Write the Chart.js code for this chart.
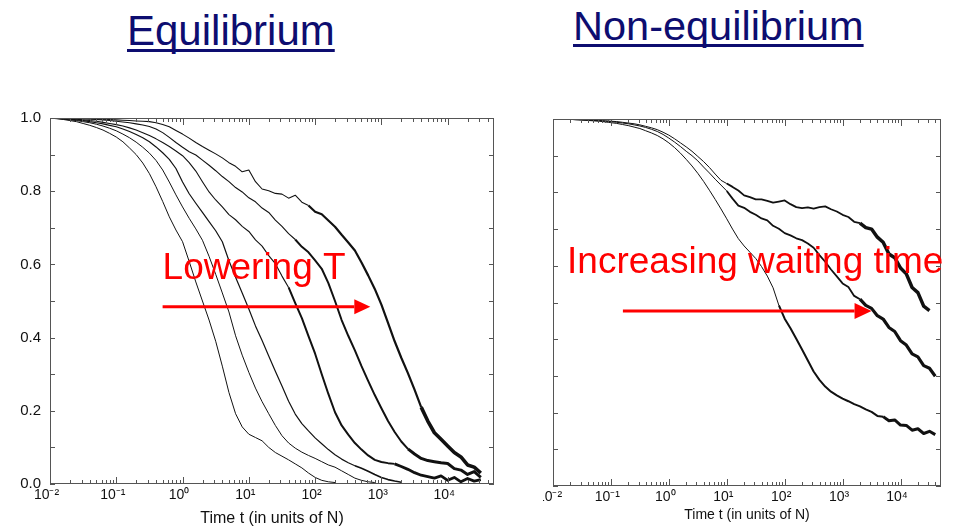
<!DOCTYPE html>
<html>
<head>
<meta charset="utf-8">
<script src="https://cdn.jsdelivr.net/npm/chart.js@4.4.1/dist/chart.umd.min.js"></script>
<style>
  html, body { margin: 0; padding: 0; background: #fff; }
  body { width: 956px; height: 530px; position: relative; overflow: hidden; font-family: "Liberation Sans", Arial, sans-serif; }
  .title { position: absolute; color: #0d0d70; line-height: 1; white-space: nowrap;
           text-decoration: underline; text-decoration-thickness: 3px; text-underline-offset: 4px; text-decoration-skip-ink: none; }
  .panel { position: absolute; top: 100px; height: 430px; }
</style>
</head>
<body>
<div class="title" style="left:127px; top:10px; font-size:42px;">Equilibrium</div>
<div class="title" style="left:573px; top:5px; font-size:41.5px;">Non-equilibrium</div>
<div class="panel" style="left:0; width:530px;"><canvas id="eq"></canvas></div>
<div class="panel" style="left:543px; width:413px;"><canvas id="neq"></canvas></div>
<script>
// time grid: log10(t) from -2 to 4.6 in steps of 0.1
const logT = [];
for (let k = -20; k <= 46; k++) logT.push(k / 10);

// equilibrium correlation, one run per temperature (highest T first)
const eqT1 = [1.000, 0.998, 0.996, 0.993, 0.990, 0.985, 0.980, 0.974, 0.967, 0.958,
  0.948, 0.935, 0.918, 0.900, 0.877, 0.848, 0.812, 0.772, 0.730, 0.694,
  0.662, 0.608, 0.552, 0.500, 0.448, 0.390, 0.322, 0.250, 0.192, 0.156,
  0.136, 0.127, 0.118, 0.100, 0.086, 0.076, 0.066, 0.055, 0.044, 0.030,
  0.018, 0.010, 0.006, 0.004];
const eqT2 = [1.000, 0.999, 0.997, 0.995, 0.993, 0.990, 0.987, 0.983, 0.978, 0.972,
  0.965, 0.956, 0.946, 0.934, 0.920, 0.904, 0.884, 0.858, 0.825, 0.790,
  0.757, 0.726, 0.697, 0.666, 0.622, 0.573, 0.522, 0.470, 0.405, 0.352,
  0.305, 0.262, 0.225, 0.192, 0.160, 0.132, 0.112, 0.098, 0.087, 0.078,
  0.070, 0.061, 0.052, 0.046, 0.036, 0.026, 0.016, 0.010, 0.006, 0.004];
const eqT3 = [1.000, 0.999, 0.998, 0.997, 0.995, 0.993, 0.990, 0.987, 0.984, 0.980,
  0.976, 0.970, 0.963, 0.955, 0.946, 0.935, 0.921, 0.905, 0.887, 0.862,
  0.825, 0.793, 0.767, 0.742, 0.717, 0.692, 0.662, 0.610, 0.565, 0.522,
  0.478, 0.432, 0.392, 0.350, 0.308, 0.268, 0.226, 0.191, 0.165, 0.145,
  0.126, 0.110, 0.094, 0.080, 0.068, 0.058, 0.050, 0.043, 0.035, 0.026,
  0.018, 0.012, 0.008, 0.005];
const eqT4 = [1.000, 1.000, 0.999, 0.998, 0.997, 0.995, 0.993, 0.991, 0.988, 0.985,
  0.982, 0.978, 0.973, 0.967, 0.960, 0.952, 0.943, 0.933, 0.922, 0.910,
  0.897, 0.878, 0.855, 0.826, 0.798, 0.776, 0.757, 0.736, 0.722, 0.704,
  0.690, 0.667, 0.650, 0.624, 0.602, 0.568, 0.537, 0.494, 0.453, 0.404,
  0.356, 0.300, 0.246, 0.196, 0.160, 0.135, 0.112, 0.094, 0.078, 0.066,
  0.060, 0.057, 0.055, 0.048, 0.040, 0.031, 0.024, 0.020, 0.016, 0.022,
  0.010, 0.018, 0.006, 0.015, 0.008, 0.012];
const eqT5 = [1.000, 1.000, 1.000, 0.999, 0.999, 0.998, 0.997, 0.996, 0.995, 0.993,
  0.991, 0.989, 0.987, 0.984, 0.981, 0.977, 0.970, 0.960, 0.947, 0.933,
  0.920, 0.908, 0.899, 0.885, 0.871, 0.856, 0.840, 0.826, 0.810, 0.798,
  0.782, 0.771, 0.754, 0.742, 0.721, 0.704, 0.684, 0.668, 0.648, 0.633,
  0.611, 0.588, 0.549, 0.500, 0.448, 0.405, 0.365, 0.322, 0.282, 0.243,
  0.207, 0.172, 0.142, 0.116, 0.096, 0.082, 0.070, 0.064, 0.061, 0.058,
  0.056, 0.042, 0.038, 0.026, 0.034, 0.018];
const eqT6 = [1.000, 1.000, 1.000, 1.000, 0.999, 0.999, 0.998, 0.998, 0.997, 0.996,
  0.995, 0.994, 0.993, 0.992, 0.991, 0.990, 0.987, 0.982, 0.976, 0.966,
  0.956, 0.945, 0.933, 0.922, 0.912, 0.902, 0.891, 0.878, 0.868, 0.853,
  0.858, 0.826, 0.806, 0.801, 0.794, 0.792, 0.781, 0.789, 0.770, 0.761,
  0.744, 0.737, 0.720, 0.703, 0.681, 0.660, 0.638, 0.605, 0.570, 0.533,
  0.490, 0.440, 0.390, 0.345, 0.303, 0.258, 0.210, 0.172, 0.140, 0.122,
  0.104, 0.086, 0.074, 0.052, 0.046, 0.030];

// aging runs, shortest waiting time first
const ageW1 = [1.000, 1.000, 0.999, 0.999, 0.998, 0.997, 0.996, 0.995, 0.994, 0.992,
  0.990, 0.988, 0.985, 0.982, 0.978, 0.974, 0.968, 0.962, 0.955, 0.946,
  0.935, 0.922, 0.907, 0.890, 0.872, 0.852, 0.830, 0.806, 0.781, 0.755,
  0.728, 0.700, 0.674, 0.654, 0.637, 0.620, 0.598, 0.572, 0.540, 0.492,
  0.456, 0.430, 0.401, 0.372, 0.342, 0.312, 0.289, 0.271, 0.257, 0.247,
  0.238, 0.231, 0.223, 0.217, 0.209, 0.202, 0.191, 0.189, 0.178, 0.180,
  0.166, 0.165, 0.152, 0.156, 0.143, 0.149, 0.140];
const ageW2 = [1.000, 1.000, 0.999, 0.999, 0.998, 0.998, 0.997, 0.996, 0.995, 0.994,
  0.993, 0.991, 0.989, 0.987, 0.984, 0.981, 0.977, 0.972, 0.966, 0.958,
  0.948, 0.937, 0.925, 0.912, 0.900, 0.886, 0.869, 0.853, 0.836, 0.820,
  0.804, 0.783, 0.764, 0.758, 0.747, 0.739, 0.729, 0.724, 0.709, 0.701,
  0.689, 0.683, 0.675, 0.670, 0.661, 0.649, 0.629, 0.611, 0.590, 0.571,
  0.552, 0.542, 0.518, 0.509, 0.492, 0.484, 0.464, 0.455, 0.432, 0.421,
  0.396, 0.384, 0.360, 0.352, 0.328, 0.321, 0.299];
const ageW3 = [1.000, 1.000, 1.000, 0.999, 0.999, 0.998, 0.998, 0.997, 0.996, 0.995,
  0.994, 0.993, 0.991, 0.989, 0.987, 0.984, 0.980, 0.976, 0.971, 0.964,
  0.956, 0.946, 0.935, 0.924, 0.912, 0.898, 0.884, 0.868, 0.850, 0.833,
  0.824, 0.815, 0.805, 0.792, 0.787, 0.781, 0.781, 0.777, 0.772, 0.775,
  0.778, 0.768, 0.760, 0.757, 0.759, 0.756, 0.760, 0.762, 0.754, 0.748,
  0.739, 0.733, 0.720, 0.716, 0.704, 0.700, 0.678, 0.664, 0.632, 0.622,
  0.594, 0.578, 0.541, 0.527, 0.490, 0.478];

const yTicks = [0, 0.2, 0.4, 0.6, 0.8, 1.0];
const FONT = '"Liberation Sans", Arial, sans-serif';
const SUP = { '-': '\u207B', '0': '\u2070', '1': '\u00B9', '2': '\u00B2', '3': '\u00B3', '4': '\u2074' };

// minor and major positions along the log axis
const xTickValues = [];
for (let e = -2; e <= 4; e++) {
  for (let m = 1; m <= 9; m++) {
    const v = m * Math.pow(10, e);
    if (v < 50000) xTickValues.push(v);
  }
}

function isDecade(v) {
  const l = Math.log10(v);
  return Math.abs(l - Math.round(l)) < 1e-9;
}

function decadeLabel(v) {
  if (!isDecade(v)) return '';
  const e = String(Math.round(Math.log10(v)));
  return '10' + e.split('').map(c => SUP[c]).join('') + '\u2002';
}

// line gets heavier where the run turns noisy: w = [thin, thick, noisy], from = [thick, noisy] in decades
function series(vals, w, from) {
  return {
    data: vals.map((v, i) => ({ x: Math.pow(10, logT[i]), y: v })),
    borderColor: '#111',
    borderWidth: w[0],
    borderJoinStyle: 'round',
    pointRadius: 0,
    fill: false,
    tension: 0,
    segment: {
      borderWidth: c => {
        const l = Math.log10(c.p0.parsed.x);
        if (l >= from[1] - 1e-9) return w[2];
        if (l >= from[0] - 1e-9) return w[1];
        return w[0];
      }
    }
  };
}

// inward box ticks on all four sides
const boxTicks = {
  id: 'boxTicks',
  afterDatasetsDraw(chart) {
    const { ctx, chartArea: a, scales: { x, y } } = chart;
    ctx.save();
    ctx.strokeStyle = '#555';
    ctx.lineWidth = 1;
    ctx.strokeRect(a.left + 0.5, a.top + 0.5, a.width - 1, a.height - 1);
    ctx.beginPath();
    x.ticks.forEach(t => {
      const px = Math.round(x.getPixelForValue(t.value)) + 0.5;
      const len = isDecade(t.value) ? 7 : 4;
      ctx.moveTo(px, a.bottom); ctx.lineTo(px, a.bottom - len);
      ctx.moveTo(px, a.top); ctx.lineTo(px, a.top + len);
    });
    y.ticks.forEach(t => {
      const py = Math.round(y.getPixelForValue(t.value)) + 0.5;
      ctx.moveTo(a.left, py); ctx.lineTo(a.left + 5, py);
      ctx.moveTo(a.right, py); ctx.lineTo(a.right - 5, py);
    });
    ctx.stroke();
    ctx.restore();
  }
};

// red caption with an arrow, placed in data coordinates
const arrowNote = {
  id: 'arrowNote',
  afterDraw(chart, args, o) {
    if (!o.text) return;
    const { ctx, scales: { x, y } } = chart;
    ctx.save();
    ctx.fillStyle = o.color;
    ctx.strokeStyle = o.color;
    ctx.font = o.size + 'px ' + FONT;
    ctx.textBaseline = 'alphabetic';
    ctx.fillText(o.text, x.getPixelForValue(o.textAt[0]), y.getPixelForValue(o.textAt[1]));
    const x0 = x.getPixelForValue(o.from[0]);
    const x1 = x.getPixelForValue(o.to[0]);
    const yy = y.getPixelForValue(o.from[1]);
    ctx.lineWidth = 3;
    ctx.beginPath();
    ctx.moveTo(x0, yy);
    ctx.lineTo(x1 - o.head, yy);
    ctx.stroke();
    ctx.beginPath();
    ctx.moveTo(x1, yy);
    ctx.lineTo(x1 - o.head, yy - o.half);
    ctx.lineTo(x1 - o.head, yy + o.half);
    ctx.closePath();
    ctx.fill();
    ctx.restore();
  }
};

function makeChart(id, datasets, cfg) {
  return new Chart(document.getElementById(id), {
    type: 'line',
    data: { datasets },
    plugins: [boxTicks, arrowNote],
    options: {
      responsive: true,
      maintainAspectRatio: false,
      animation: false,
      events: [],
      layout: { padding: { left: 0, top: cfg.top, right: cfg.right, bottom: 0 } },
      plugins: {
        legend: { display: false },
        tooltip: { enabled: false },
        arrowNote: cfg.note
      },
      scales: {
        x: {
          type: 'logarithmic',
          min: 0.01,
          max: 50000,
          grid: { display: false, drawTicks: false },
          border: { display: false },
          afterBuildTicks: s => { s.ticks = xTickValues.map(v => ({ value: v })); },
          ticks: {
            autoSkip: false, maxRotation: 0, minRotation: 0, padding: 3,
            color: '#111', font: { family: FONT, size: 14 },
            callback: v => decadeLabel(v)
          },
          title: {
            display: true, text: 'Time t (in units of N)', color: '#111',
            font: { family: FONT, size: cfg.titleSize },
            padding: { top: 0, bottom: cfg.titlePad }
          },
          afterFit: s => {
            s.height = cfg.xHeight;
            // let the first decade label run off the edge instead of shrinking the plot
            s.paddingLeft = 0;
            s.paddingRight = 0;
          }
        },
        y: {
          min: 0,
          max: 1,
          grid: { display: false, drawTicks: false },
          border: { display: false },
          ticks: {
            stepSize: 0.1, display: cfg.yLabels, padding: 9,
            color: '#111', font: { family: FONT, size: 15 },
            callback: v => (yTicks.some(t => Math.abs(t - v) < 1e-6) ? v.toFixed(1) : '')
          },
          afterFit: s => { s.width = cfg.yWidth; }
        }
      }
    }
  });
}

makeChart('eq', [
  series(eqT1, [1, 1, 1], [9, 9]),
  series(eqT2, [1, 1, 1], [9, 9]),
  series(eqT3, [1.2, 1.2, 1.6], [9, 2.6]),
  series(eqT4, [1.1, 2, 2.8], [1.6, 3.2]),
  series(eqT5, [1.1, 2, 3], [1.7, 3.4]),
  series(eqT6, [1.1, 2.2, 3.6], [1.9, 3.6])
], {
  top: 16, right: 36, yWidth: 50, xHeight: 46, titleSize: 16, titlePad: 2, yLabels: true,
  note: { text: 'Lowering T', color: '#ff0000', size: 37, textAt: [0.5, 0.56],
          from: [0.5, 0.484], to: [680, 0.484], head: 16, half: 7.5 }
});

makeChart('neq', [
  series(ageW1, [1, 2, 3], [1.9, 3.7]),
  series(ageW2, [1, 1.8, 3.2], [1.0, 3.3]),
  series(ageW3, [1, 1.8, 3.5], [1.0, 3.3])
], {
  top: 19, right: 15, yWidth: 10, xHeight: 44, titleSize: 14, titlePad: 6, yLabels: false,
  note: { text: 'Increasing waiting time', color: '#ff0000', size: 37, textAt: [0.0175, 0.58],
          from: [0.161, 0.477], to: [3160, 0.477], head: 17, half: 8 }
});
</script>
</body>
</html>
